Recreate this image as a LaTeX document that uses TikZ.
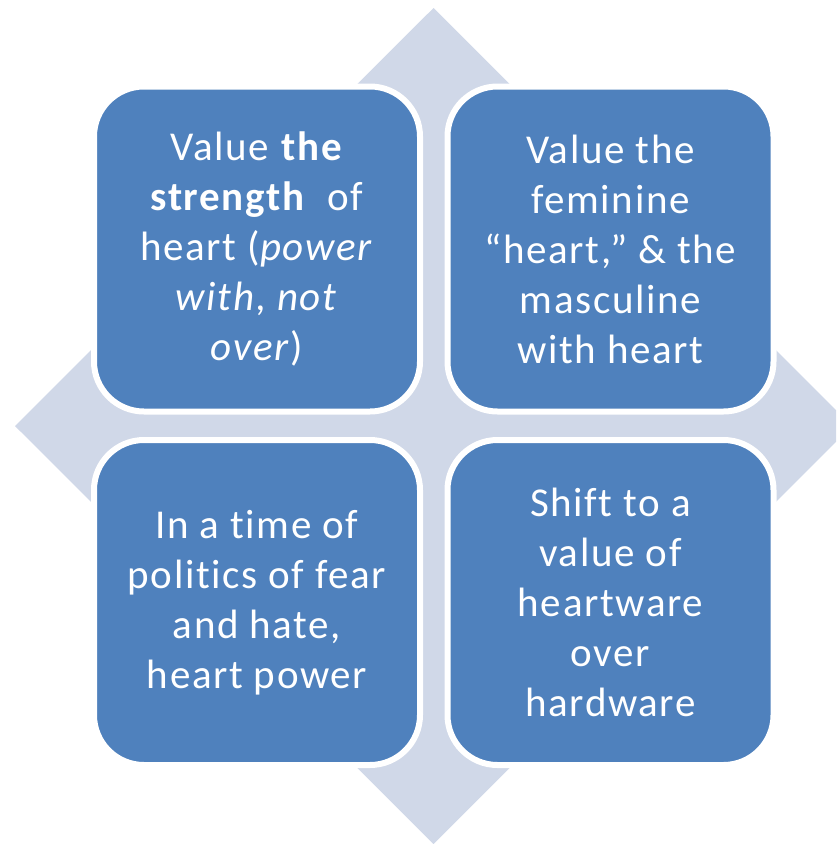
\documentclass[tikz,border=0pt]{standalone}
\usepackage{fontspec}
\setmainfont{Carlito}[Ligatures=NoCommon, LetterSpace=4]
\definecolor{boxblue}{HTML}{4F81BD}
\definecolor{diamondfill}{HTML}{D0D8E8}
\begin{document}
\begin{tikzpicture}[x=1pt,y=-1pt,
  box/.style={draw=white, line width=6pt, fill=boxblue, rounded corners=50pt,
    minimum width=326pt, minimum height=325pt, inner sep=0pt,
    text=white, align=center, font=\fontsize{41}{50}\selectfont}]
\useasboundingbox (0,0) rectangle (836,844);
\clip (0,0) rectangle (836,844);
% background diamond
\fill[diamondfill] (433.5,8) -- (852,426) -- (433.5,844) -- (15,426) -- cycle;
% four boxes
\node[box] (tl) at (257,249) {Value \textbf{the}\\\textbf{strength}~ of\\heart (\textit{power}\\\textit{with, not}\\\textit{over})};
\node[box] (tr) at (610.5,249) {Value the\\feminine\\“heart,” \& the\\masculine\\with heart};
\node[box] (bl) at (257,602.5) {In a time of\\politics of fear\\and hate,\\heart power};
\node[box] (br) at (610.5,602.5) {Shift to a\\value of\\heartware\\over\\hardware};
\end{tikzpicture}
\end{document}
